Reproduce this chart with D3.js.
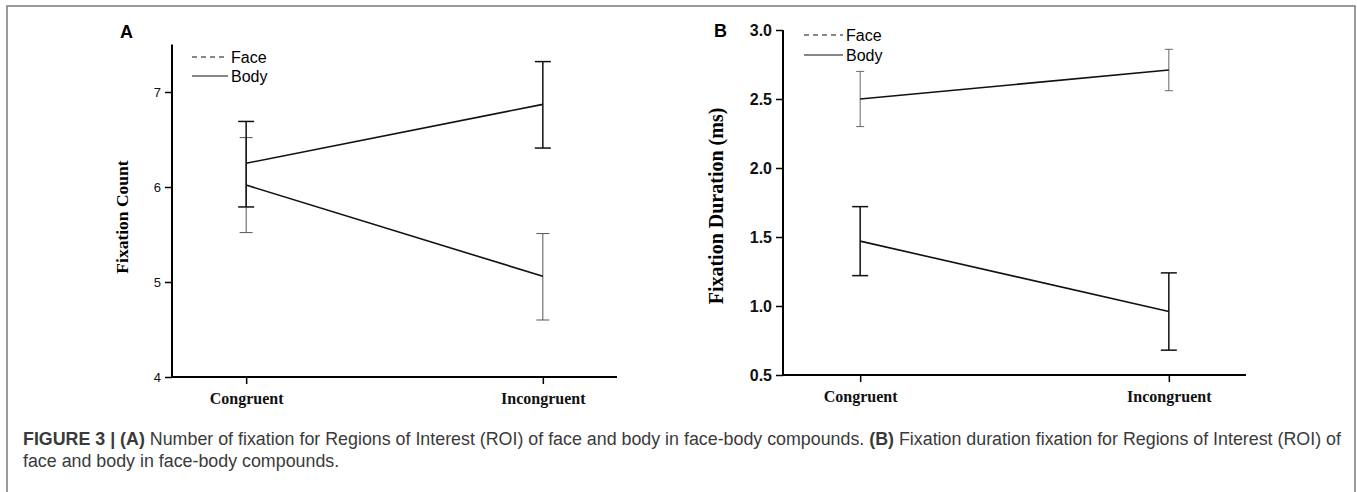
<!DOCTYPE html>
<html>
<head>
<meta charset="utf-8">
<script src="https://cdn.jsdelivr.net/npm/d3@7"></script>
<style>
    body { margin: 0; background: #fff; }
    svg { display: block; }
    .tick text { fill: #111; }
</style>
</head>
<body>
<svg id="fig" width="1357" height="492"></svg>
<script>
// ---- data ----
const conditions = ["Congruent", "Incongruent"];
const seriesNames = ["Face", "Body"];

const countTicks = [4, 5, 6, 7];
const countFace = [6.02, 5.06];
const countFaceLow = [5.52, 4.60];
const countFaceHigh = [6.52, 5.51];
const countBody = [6.25, 6.87];
const countBodyLow = [5.79, 6.41];
const countBodyHigh = [6.69, 7.32];

const durationTicks = [0.5, 1.0, 1.5, 2.0, 2.5, 3.0];
const durationFace = [2.50, 2.71];
const durationFaceLow = [2.30, 2.56];
const durationFaceHigh = [2.70, 2.86];
const durationBody = [1.47, 0.96];
const durationBodyLow = [1.22, 0.68];
const durationBodyHigh = [1.72, 1.24];

const captionLines = [
    [["FIGURE 3 | (A)", true], [" Number of fixation for Regions of Interest (ROI) of face and body in face-body compounds. ", false],
     ["(B)", true], [" Fixation duration fixation for Regions of Interest (ROI) of", false]],
    [["face and body in face-body compounds.", false]]
];

function buildSeries(mean, low, high) {
    return conditions.map((c, i) => ({ cond: c, value: mean[i], low: low[i], high: high[i] }));
}

const svg = d3.select("#fig");

// outer frame (open at the bottom)
svg.append("path")
    .attr("d", "M7,492V6H1355V492")
    .attr("fill", "none")
    .attr("stroke", "#7a7a7a")
    .attr("stroke-width", 1.5);

function drawPanel(cfg) {
    const g = svg.append("g");

    const x = d3.scalePoint()
        .domain(conditions)
        .range([cfg.left, cfg.right])
        .padding(0.25);

    const y = d3.scaleLinear()
        .domain(cfg.domain)
        .range([cfg.bottom, cfg.top]);

    // y axis
    const yAxis = d3.axisLeft(y)
        .tickValues(cfg.ticks)
        .tickFormat(cfg.format)
        .tickSizeOuter(0)
        .tickSize(7)
        .tickPadding(4);

    const ya = g.append("g")
        .attr("transform", "translate(" + cfg.left + ",0)")
        .call(yAxis);
    ya.select(".domain").attr("stroke-width", 2).attr("d", "M0," + y(cfg.domain[1]) + "V" + (cfg.bottom + 1));
    ya.selectAll(".tick line").attr("stroke-width", 1.5);
    ya.selectAll(".tick text")
        .style("font-family", "'Liberation Sans', Arial, sans-serif")
        .style("font-size", cfg.tickFont + "px")
        .style("font-weight", cfg.tickWeight);

    // x axis
    const xAxis = d3.axisBottom(x)
        .tickSizeOuter(0)
        .tickSize(7)
        .tickPadding(9);

    const xa = g.append("g")
        .attr("transform", "translate(0," + cfg.bottom + ")")
        .call(xAxis);
    xa.select(".domain").attr("stroke-width", 2).attr("d", "M" + (cfg.left - 1) + ",0H" + cfg.right);
    xa.selectAll(".tick line").attr("stroke-width", 1.5);
    xa.selectAll(".tick text")
        .style("font-family", "'Liberation Serif', 'Times New Roman', serif")
        .style("font-size", "16px")
        .style("font-weight", "bold");

    // y axis title
    g.append("text")
        .attr("transform", "translate(" + cfg.titleX + "," + cfg.titleY + ") rotate(-90)")
        .attr("text-anchor", "middle")
        .attr("dy", "0.35em")
        .style("font-family", "'Liberation Serif', 'Times New Roman', serif")
        .style("font-size", cfg.titleFont + "px")
        .style("font-weight", "bold")
        .text(cfg.title);

    // panel letter
    g.append("text")
        .attr("x", cfg.letterX)
        .attr("y", cfg.letterY)
        .style("font-family", "'Liberation Sans', Arial, sans-serif")
        .style("font-size", "18px")
        .style("font-weight", "bold")
        .text(cfg.letter);

    const line = d3.line()
        .x(d => x(d.cond))
        .y(d => y(d.value));

    cfg.series.forEach(s => {
        // error bars
        const eb = g.append("g").attr("stroke", s.barColor).attr("stroke-width", s.barWidth);
        eb.selectAll("line.v").data(s.data).enter().append("line")
            .attr("class", "v")
            .attr("x1", d => x(d.cond)).attr("x2", d => x(d.cond))
            .attr("y1", d => y(d.low)).attr("y2", d => y(d.high));
        eb.selectAll("line.lo").data(s.data).enter().append("line")
            .attr("class", "lo")
            .attr("x1", d => x(d.cond) - s.cap).attr("x2", d => x(d.cond) + s.cap)
            .attr("y1", d => y(d.low)).attr("y2", d => y(d.low));
        eb.selectAll("line.hi").data(s.data).enter().append("line")
            .attr("class", "hi")
            .attr("x1", d => x(d.cond) - s.cap).attr("x2", d => x(d.cond) + s.cap)
            .attr("y1", d => y(d.high)).attr("y2", d => y(d.high));

        g.append("path")
            .datum(s.data)
            .attr("d", line)
            .attr("fill", "none")
            .attr("stroke", "#111")
            .attr("stroke-width", 1.6);
    });

    // legend
    const lg = g.append("g");
    seriesNames.forEach((name, i) => {
        const ly = cfg.legendY + i * cfg.legendGap;
        lg.append("line")
            .attr("x1", cfg.legendX).attr("x2", cfg.legendX + cfg.legendLen)
            .attr("y1", ly).attr("y2", ly)
            .attr("stroke", "#111")
            .attr("stroke-width", 1.2)
            .attr("stroke-dasharray", i == 0 ? "5,4" : null);
        lg.append("text")
            .attr("x", cfg.legendX + cfg.legendLen + 3)
            .attr("y", ly)
            .attr("dy", "0.35em")
            .style("font-family", "'Liberation Sans', Arial, sans-serif")
            .style("font-size", "16px")
            .text(name);
    });
}

drawPanel({
    left: 172, right: 617, top: 44.5, bottom: 377,
    domain: [4, 7.5], ticks: countTicks, format: d3.format("d"),
    tickFont: 13, tickWeight: "normal",
    title: "Fixation Count", titleX: 122, titleY: 217, titleFont: 17.5,
    letter: "A", letterX: 120, letterY: 38,
    legendX: 192, legendY: 57, legendGap: 19, legendLen: 36,
    series: [
        { data: buildSeries(countFace, countFaceLow, countFaceHigh), barColor: "#555", barWidth: 1, cap: 6.5 },
        { data: buildSeries(countBody, countBodyLow, countBodyHigh), barColor: "#111", barWidth: 1.5, cap: 8 }
    ]
});

drawPanel({
    left: 783, right: 1246, top: 30, bottom: 375,
    domain: [0.5, 3.0], ticks: durationTicks, format: d3.format(".1f"),
    tickFont: 16, tickWeight: "bold",
    title: "Fixation Duration (ms)", titleX: 716, titleY: 206, titleFont: 20,
    letter: "B", letterX: 714, letterY: 37,
    legendX: 804, legendY: 35, legendGap: 20, legendLen: 39,
    series: [
        { data: buildSeries(durationFace, durationFaceLow, durationFaceHigh), barColor: "#666", barWidth: 1, cap: 4 },
        { data: buildSeries(durationBody, durationBodyLow, durationBodyHigh), barColor: "#111", barWidth: 1.5, cap: 8 }
    ]
});

// caption
const cap = svg.append("g")
    .style("font-family", "'Liberation Sans', Arial, sans-serif")
    .style("font-size", "15px")
    .attr("fill", "#3a3a3a");

captionLines.forEach((parts, i) => {
    const t = cap.append("text")
        .attr("x", 23)
        .attr("y", 445 + i * 22)
        .attr("xml:space", "preserve");
    parts.forEach(p => {
        t.append("tspan")
            .style("font-weight", p[1] ? "bold" : "normal")
            .text(p[0]);
    });
});

// stretch the caption font so the first line spans the frame like the original
const firstLine = cap.select("text").node();
const w = firstLine.getComputedTextLength();
cap.style("font-size", (15 * 1319 / w).toFixed(2) + "px");
</script>
</body>
</html>
